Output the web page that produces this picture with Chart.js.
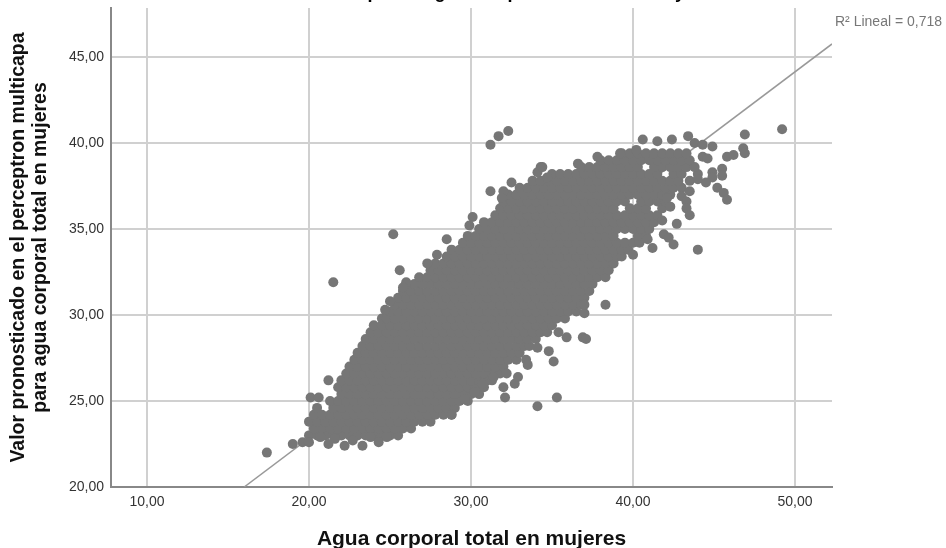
<!DOCTYPE html>
<html>
<head>
<meta charset="utf-8">
<script src="https://cdn.jsdelivr.net/npm/chart.js@4/dist/chart.umd.min.js"></script>
<style>
  html, body { margin: 0; padding: 0; background: #fff; }
  canvas { display: block; }
</style>
</head>
<body>
<canvas id="chart" width="946" height="548"></canvas>
<script>
const xTicks = [10, 20, 30, 40, 50];
const yTicks = [20, 25, 30, 35, 40, 45];
const lineX = [16.0, 52.28];
const lineY = [20, 45.76];

// solid mass
const rowY = [23.0, 23.4, 23.8, 24.2, 24.6, 25.0, 25.4, 25.8, 26.2, 26.6, 27.0, 27.4, 27.8, 28.2, 28.6, 29.0, 29.4, 29.8, 30.2, 30.6, 31.0, 31.4, 31.8, 32.2, 32.6, 33.0, 33.4, 33.8, 34.2, 34.6, 35.0, 35.4, 35.8, 36.2, 36.6, 37.0, 37.4, 37.8, 38.2, 38.6, 39.0, 39.4];
const rowX = [
  [20.0,20.5,21.0,21.5,22.0,22.5,23.0,23.5,24.0,24.5,25.0,25.5],
  [20.3,20.8,21.3,21.8,22.3,22.8,23.3,23.8,24.3,24.8,25.3,25.8,26.3],
  [20.0,20.5,21.0,21.5,22.0,22.5,23.0,23.5,24.0,24.5,25.0,25.5,26.0,26.5,27.0,27.5],
  [20.3,20.8,21.3,21.8,22.3,22.8,23.3,23.8,24.3,24.8,25.3,25.8,26.3,26.8,27.3,27.8,28.3,28.8],
  [20.5,21.5,22.0,22.5,23.0,23.5,24.0,24.5,25.0,25.5,26.0,26.5,27.0,27.5,28.0,28.5,29.0],
  [21.3,21.8,22.3,22.8,23.3,23.8,24.3,24.8,25.3,25.8,26.3,26.8,27.3,27.8,28.3,28.8,29.3,29.8],
  [22.0,22.5,23.0,23.5,24.0,24.5,25.0,25.5,26.0,26.5,27.0,27.5,28.0,28.5,29.0,29.5,30.0,30.5],
  [21.8,22.3,22.8,23.3,23.8,24.3,24.8,25.3,25.8,26.3,26.8,27.3,27.8,28.3,28.8,29.3,29.8,30.3,30.8],
  [22.0,22.5,23.0,23.5,24.0,24.5,25.0,25.5,26.0,26.5,27.0,27.5,28.0,28.5,29.0,29.5,30.0,30.5,31.0,31.3],
  [22.3,22.8,23.3,23.8,24.3,24.8,25.3,25.8,26.3,26.8,27.3,27.8,28.3,28.8,29.3,29.8,30.3,30.8,31.3,31.8],
  [22.5,23.0,23.5,24.0,24.5,25.0,25.5,26.0,26.5,27.0,27.5,28.0,28.5,29.0,29.5,30.0,30.5,31.0,31.5,32.0],
  [22.8,23.3,23.8,24.3,24.8,25.3,25.8,26.3,26.8,27.3,27.8,28.3,28.8,29.3,29.8,30.3,30.8,31.3,31.8,32.3,32.8],
  [23.0,23.5,24.0,24.5,25.0,25.5,26.0,26.5,27.0,27.5,28.0,28.5,29.0,29.5,30.0,30.5,31.0,31.5,32.0,32.5,33.0],
  [23.3,23.8,24.3,24.8,25.3,25.8,26.3,26.8,27.3,27.8,28.3,28.8,29.3,29.8,30.3,30.8,31.3,31.8,32.3,32.8,33.3,33.6],
  [23.5,24.0,24.5,25.0,25.5,26.0,26.5,27.0,27.5,28.0,28.5,29.0,29.5,30.0,30.5,31.0,31.5,32.0,32.5,33.0,33.5,34.0],
  [23.8,24.3,24.8,25.3,25.8,26.3,26.8,27.3,27.8,28.3,28.8,29.3,29.8,30.3,30.8,31.3,31.8,32.3,32.8,33.3,33.8,34.3,34.7],
  [24.0,24.5,25.0,25.5,26.0,26.5,27.0,27.5,28.0,28.5,29.0,29.5,30.0,30.5,31.0,31.5,32.0,32.5,33.0,33.5,34.0,34.5,35.0],
  [24.5,24.8,25.3,25.8,26.3,26.8,27.3,27.8,28.3,28.8,29.3,29.8,30.3,30.8,31.3,31.8,32.3,32.8,33.3,33.8,34.3,34.8,35.3,35.8],
  [25.0,25.5,26.0,26.5,27.0,27.5,28.0,28.5,29.0,29.5,30.0,30.5,31.0,31.5,32.0,32.5,33.0,33.5,34.0,34.5,35.0,35.5,36.0,36.5],
  [25.3,25.8,26.3,26.8,27.3,27.8,28.3,28.8,29.3,29.8,30.3,30.8,31.3,31.8,32.3,32.8,33.3,33.8,34.3,34.8,35.3,35.8,36.3,36.8],
  [25.5,26.0,26.5,27.0,27.5,28.0,28.5,29.0,29.5,30.0,30.5,31.0,31.5,32.0,32.5,33.0,33.5,34.0,34.5,35.0,35.5,36.0,36.5,37.0],
  [25.8,26.3,26.8,27.3,27.8,28.3,28.8,29.3,29.8,30.3,30.8,31.3,31.8,32.3,32.8,33.3,33.8,34.3,34.8,35.3,35.8,36.3,36.8,37.3],
  [26.0,26.5,27.0,27.5,28.0,28.5,29.0,29.5,30.0,30.5,31.0,31.5,32.0,32.5,33.0,33.5,34.0,34.5,35.0,35.5,36.0,36.5,37.0,37.5],
  [26.8,27.3,27.8,28.3,28.8,29.3,29.8,30.3,30.8,31.3,31.8,32.3,32.8,33.3,33.8,34.3,34.8,35.3,35.8,36.3,36.8,37.3,37.8,38.3],
  [27.5,28.0,28.5,29.0,29.5,30.0,30.5,31.0,31.5,32.0,32.5,33.0,33.5,34.0,34.5,35.0,35.5,36.0,36.5,37.0,37.5,38.0,38.5],
  [27.8,28.3,28.8,29.3,29.8,30.3,30.8,31.3,31.8,32.3,32.8,33.3,33.8,34.3,34.8,35.3,35.8,36.3,36.8,37.3,37.8,38.3,38.8],
  [28.5,29.0,29.5,30.0,30.5,31.0,31.5,32.0,32.5,33.0,33.5,34.0,34.5,35.0,35.5,36.0,36.5,37.0,37.5,38.0,38.5,39.0,39.3],
  [28.8,29.3,29.8,30.3,30.8,31.3,31.8,32.3,32.8,33.3,33.8,34.3,34.8,35.3,35.8,36.3,36.8,37.3,37.8,38.3,38.8,39.3,39.7],
  [29.5,30.0,30.5,31.0,31.5,32.0,32.5,33.0,33.5,34.0,34.5,35.0,35.5,36.0,36.5,37.0,37.5,38.0,38.5,39.0,39.5,40.0,40.4],
  [29.8,30.3,30.8,31.3,31.8,32.3,32.8,33.3,33.8,34.3,34.8,35.3,35.8,36.3,36.8,37.3,37.8,38.3,38.8,40.3,40.8],
  [30.5,31.0,31.5,32.0,32.5,33.0,33.5,34.0,34.5,35.0,35.5,36.0,36.5,37.0,37.5,38.0,38.5,39.0,39.5,40.0,40.5,41.0],
  [30.8,31.3,31.8,32.3,32.8,33.3,33.8,34.3,34.8,35.3,35.8,36.3,36.8,37.3,37.8,38.3,38.8,39.3,39.8,40.3,40.8,41.3],
  [31.5,32.0,32.5,33.0,33.5,34.0,34.5,35.0,35.5,36.0,36.5,37.0,37.5,38.0,38.5,39.0,39.5,40.0,40.5,41.0,41.5],
  [31.8,32.3,32.8,33.3,33.8,34.3,34.8,35.3,35.8,36.3,36.8,37.3,37.8,38.3,38.8,39.8,40.3,40.8,41.8],
  [32.0,32.5,33.0,33.5,34.0,34.5,35.0,35.5,36.0,36.5,37.0,37.5,38.0,38.5,39.0,39.5,40.5,41.0,41.5,42.0],
  [32.3,32.8,33.3,33.8,34.3,34.8,35.3,35.8,36.3,36.8,37.3,37.8,38.3,38.8,39.3,39.8,40.3,40.8,41.3,41.8,42.3],
  [33.0,33.5,34.0,34.5,35.0,35.5,36.0,36.5,37.0,37.5,38.0,38.5,39.0,39.5,40.0,40.5,41.0,41.5,42.0,42.5,43.0],
  [33.8,34.3,34.8,35.3,35.8,36.3,36.8,37.3,37.8,38.3,38.8,39.3,39.8,40.3,40.8,41.3,41.8,42.3,42.8,43.5],
  [35.0,35.5,36.0,36.5,37.0,37.5,38.0,38.5,39.0,39.5,40.0,40.5,41.0,41.5,42.5,43.0,44.0],
  [36.8,37.3,37.8,38.3,38.8,39.3,39.8,40.3,41.3,41.8,42.3,42.8,43.3,43.8],
  [38.0,38.5,39.0,39.5,40.0,40.5,41.0,41.5,42.0,42.5,43.0,43.5],
  [39.3,39.8,40.3,40.8,41.3,41.8,42.3,42.8,43.3]
];

// single dots around the edge
const looseX = [17.4,19.0,19.6,20.0,20.7,21.2,21.6,22.2,22.7,23.3,23.8,24.3,24.8,21.2,21.5,25.2,25.6,26.0,25.8,24.7,25.0,28.5,27.9,27.3,30.1,29.9,31.2,31.7,32.3,31.2,32.0,31.9,32.5,34.3,34.1,20.1,20.6,28.8,29.6,32.1,32.0,34.1,35.3,30.2,30.7,31.4,32.2,32.7,32.9,33.4,33.5,35.1,34.8,34.1,35.4,35.9,36.9,37.1,37.0,37.0,38.3,40.6,41.5,42.4,43.4,43.8,44.3,44.9,44.3,44.6,45.8,46.2,46.9,46.8,46.9,49.2,45.5,45.5,44.9,44.9,44.5,44.0,43.5,43.0,43.3,43.3,43.5,42.7,45.2,45.6,45.8,42.3,41.8,42.1,41.9,42.2,42.5,40.9,41.2,44.0,40.0,36.6,34.4,34.7,37.8,39.2,40.2];
const looseY = [22.0,22.5,22.6,22.6,22.9,22.5,22.8,22.4,22.7,22.4,22.9,22.6,22.9,26.2,31.9,34.7,32.6,31.9,31.6,30.3,30.8,34.4,33.5,33.0,35.7,35.2,39.9,40.4,40.7,37.2,37.2,36.8,37.7,38.6,38.3,25.2,25.2,24.2,25.1,25.2,25.8,24.7,25.2,25.5,26.0,26.4,26.6,26.0,26.4,27.4,27.1,27.3,27.9,28.1,29.0,28.7,28.7,28.6,30.1,30.6,30.6,40.2,40.1,40.2,40.4,40.0,39.9,39.8,39.2,39.1,39.2,39.3,40.5,39.7,39.4,40.8,38.5,38.1,38.3,38.0,37.7,37.9,37.2,36.9,36.6,36.2,35.8,35.3,37.4,37.1,36.7,36.3,35.5,36.8,34.7,34.5,34.1,34.4,33.9,33.8,33.5,38.8,38.6,38.0,39.2,39.4,39.6];

const xTitle = "Agua corporal total en mujeres";
const yTitle = ["Valor pronosticado en el perceptron multicapa", "para agua corporal total en mujeres"];
const fitLabel = "R² Lineal = 0,718";
const cutTitle = ["p", "g", "p", "y"];

const dots = [];
rowY.forEach((y, i) => rowX[i].forEach(x => dots.push({ x, y })));
looseX.forEach((x, i) => dots.push({ x, y: looseY[i] }));

const fit = lineX.map((x, i) => ({ x, y: lineY[i] }));
const comma = v => v.toFixed(2).replace(".", ",");
const fontName = "'Liberation Sans', Arial, sans-serif";

// fit label and the bits of title left after the top was cropped
const extras = {
  id: "extras",
  afterDraw(chart) {
    const ctx = chart.ctx;
    ctx.save();
    ctx.fillStyle = "#777";
    ctx.font = "14px " + fontName;
    ctx.textBaseline = "middle";
    ctx.fillText(fitLabel, 835, 22);
    ctx.fillStyle = "#000";
    ctx.font = "bold 18px " + fontName;
    ctx.textBaseline = "alphabetic";
    ctx.textAlign = "center";
    [373, 440, 513, 680].forEach((px, i) => ctx.fillText(cutTitle[i], px, -2));
    ctx.restore();
  }
};

new Chart(document.getElementById("chart"), {
  data: {
    datasets: [
      { type: "scatter", data: dots, backgroundColor: "#767676", pointRadius: 5, borderWidth: 0, order: 1 },
      { type: "line", data: fit, borderColor: "#999", borderWidth: 1.5, pointRadius: 0, order: 2 }
    ]
  },
  options: {
    responsive: false,
    animation: false,
    layout: { padding: { top: 8, right: 114, left: 0, bottom: 0 } },
    plugins: { legend: { display: false }, tooltip: { enabled: false } },
    scales: {
      x: {
        type: "linear", min: 7.78, max: 52.28,
        afterBuildTicks: s => { s.ticks = xTicks.map(value => ({ value })); },
        afterFit: s => { s.height = 61; s.paddingLeft = 0; s.paddingRight = 0; },
        grid: { color: "#d0d0d0", lineWidth: 2, drawTicks: false },
        border: { color: "#888", width: 2 },
        ticks: { callback: comma, color: "#333", font: { family: fontName, size: 14 }, padding: 7, maxRotation: 0 },
        title: { display: true, text: xTitle, color: "#111", font: { family: fontName, size: 21, weight: "bold" }, padding: { top: 0, bottom: -3.5 } }
      },
      y: {
        type: "linear", min: 20, max: 47.85,
        afterBuildTicks: s => { s.ticks = yTicks.map(value => ({ value })); },
        afterFit: s => { s.width = 111; s.paddingTop = 0; s.paddingBottom = 0; },
        grid: { color: "#d0d0d0", lineWidth: 2, drawTicks: false },
        border: { color: "#888", width: 2 },
        ticks: { callback: comma, color: "#333", font: { family: fontName, size: 14 }, padding: 7 },
        title: { display: true, text: yTitle, color: "#111", font: { family: fontName, size: 19.5, weight: "bold", lineHeight: 1.1 }, padding: { top: 8, bottom: 0 } }
      }
    }
  },
  plugins: [extras]
});
</script>
</body>
</html>
